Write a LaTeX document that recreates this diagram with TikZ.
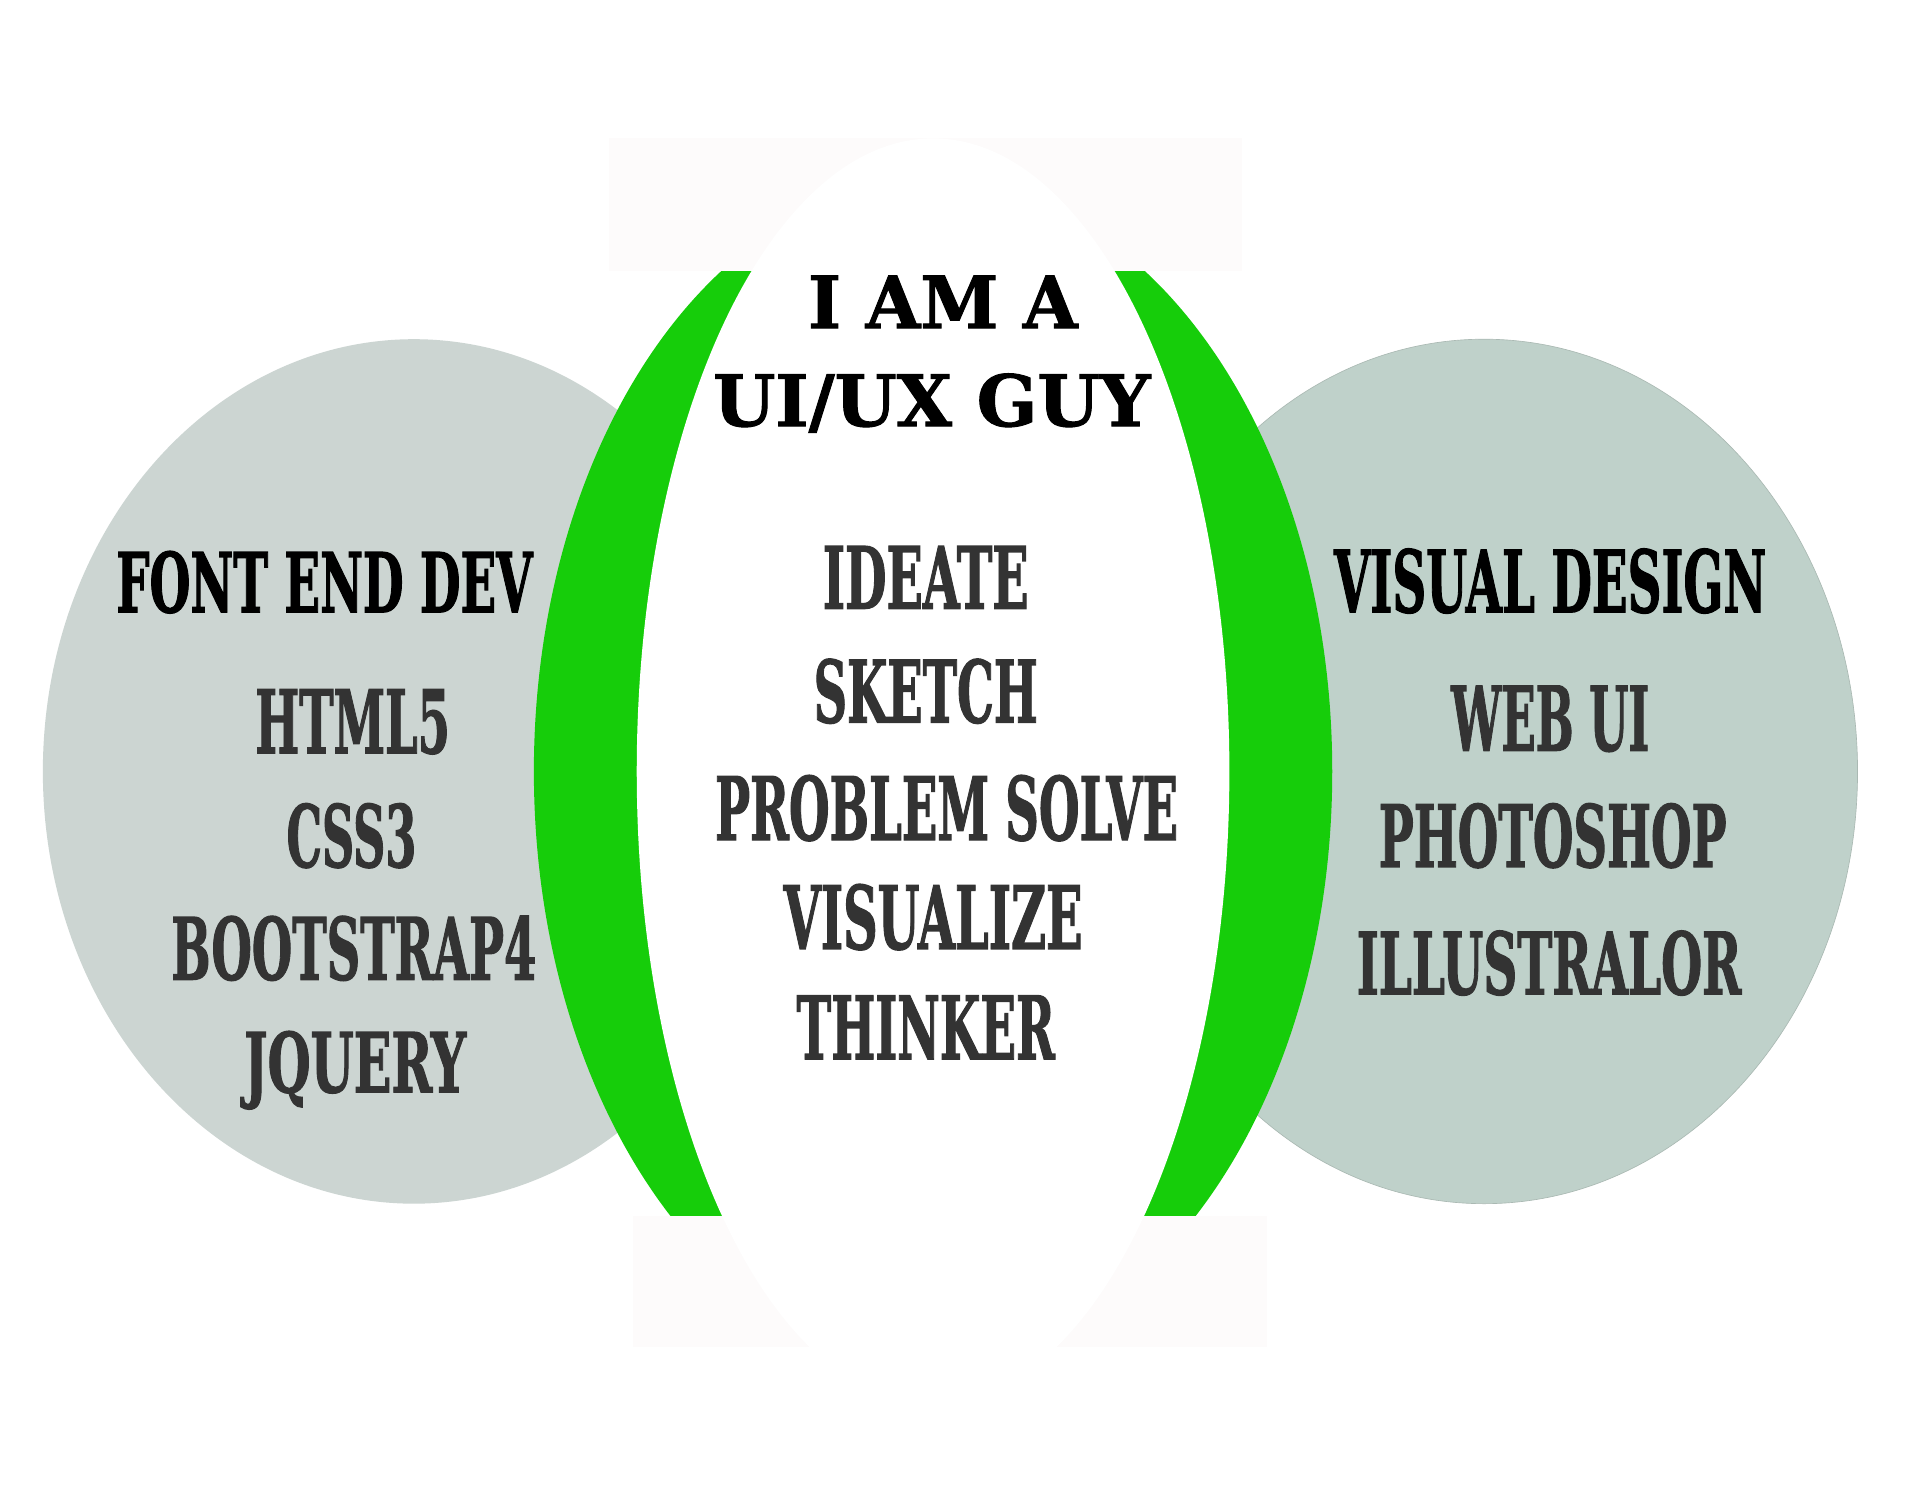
\documentclass[tikz,border=0pt]{standalone}
\usepackage{fontspec}
\setmainfont{DejaVu Serif}
\newfontfamily\slabc{DejaVu Serif Condensed}[FakeBold=1.6]
\newfontfamily\slab{DejaVu Serif}[FakeBold=1.4]
\definecolor{lgray}{RGB}{204,213,210}
\definecolor{rgray}{RGB}{191,209,202}
\definecolor{rline}{RGB}{170,185,179}
\definecolor{ringgreen}{RGB}{22,205,10}
\definecolor{faint}{RGB}{253,251,251}
\definecolor{txtgray}{RGB}{51,51,51}
\newcommand\fitlbl[3]{\resizebox{#1mm}{#2mm}{#3}}
\tikzset{
  lbl/.style={inner sep=0pt, anchor=base},
  head/.style={lbl, text=black},
  item/.style={lbl, text=txtgray}
}
\begin{document}
\begin{tikzpicture}[x=0.1mm,y=-0.1mm]
\fill[white] (0,0) rectangle (1568,1225);
% side ellipses
\fill[lgray] (338,630) ellipse [x radius=303, y radius=353];
\filldraw[fill=rgray, draw=rline, line width=0.15pt] (1212,630) ellipse [x radius=305, y radius=353];
% green ring
\fill[ringgreen] (762,630) ellipse [x radius=326, y radius=482];
\fill[faint] (497,113) rectangle (1014,221);
\fill[faint] (517,993) rectangle (1035,1100);
\fill[white] (762,630) ellipse [x radius=242, y radius=517];
% centre title
\node[head] (t1) at (770,268) {\fitlbl{22.0}{4.3}{\slab\bfseries I AM A}};
\node[head] (t2) at (761,348) {\fitlbl{35.7}{4.3}{\slab\bfseries UI/UX GUY}};
% left
\node[head] (l0) at (265,500) {\fitlbl{34.0}{5.0}{\slabc\bfseries FONT END DEV}};
\node[item] (l1) at (288,615) {\fitlbl{15.9}{5.2}{\slabc\bfseries HTML5}};
\node[item] (l2) at (287,708) {\fitlbl{10.6}{5.2}{\slabc\bfseries CSS3}};
\node[item] (l3) at (289,800) {\fitlbl{29.8}{5.2}{\slabc\bfseries BOOTSTRAP4}};
\node[item] (l4) at (290,892) {\fitlbl{18.1}{5.0}{\slabc\bfseries JQUERY}};
% centre
\node[item] (c1) at (756,497) {\fitlbl{16.8}{5.1}{\slabc\bfseries IDEATE}};
\node[item] (c2) at (756,590) {\fitlbl{18.3}{5.2}{\slabc\bfseries SKETCH}};
\node[item] (c3) at (773,686) {\fitlbl{37.8}{5.3}{\slabc\bfseries PROBLEM SOLVE}};
\node[item] (c4) at (762,775) {\fitlbl{24.4}{5.3}{\slabc\bfseries VISUALIZE}};
\node[item] (c5) at (756,865) {\fitlbl{21.1}{5.2}{\slabc\bfseries THINKER}};
% right
\node[head] (r0) at (1266,500) {\fitlbl{35.3}{5.2}{\slabc\bfseries VISUAL DESIGN}};
\node[item] (r1) at (1266,613) {\fitlbl{16.2}{5.3}{\slabc\bfseries WEB UI}};
\node[item] (r2) at (1268,708) {\fitlbl{28.4}{5.2}{\slabc\bfseries PHOTOSHOP}};
\node[item] (r3) at (1265,812) {\fitlbl{31.4}{5.2}{\slabc\bfseries ILLUSTRALOR}};
\end{tikzpicture}
\end{document}
